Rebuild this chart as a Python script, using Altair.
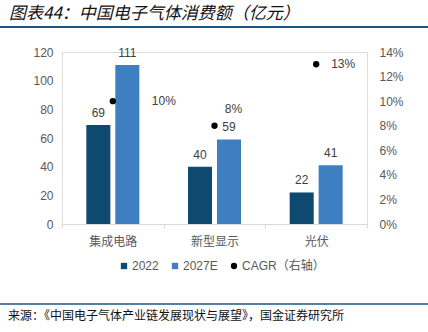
import altair as alt
import pandas as pd

categories = ["集成电路", "新型显示", "光伏"]
v2022 = [69, 40, 22]
v2027 = [111, 59, 41]
cagr = [0.10, 0.08, 0.13]
series_names = ["2022", "2027E", "CAGR（右轴）"]
title_text = "图表44：中国电子气体消费额（亿元）"
source_text = "来源：《中国电子气体产业链发展现状与展望》，国金证券研究所"

bars_df = pd.DataFrame({
    "category": categories * 2,
    "series": ["2022"] * 3 + ["2027E"] * 3,
    "value": v2022 + v2027,
})
cagr_df = pd.DataFrame({"category": categories, "cagr": cagr, "series": ["CAGR（右轴）"] * 3})

FONT = "Liberation Sans, Noto Sans CJK SC, sans-serif"
CJK = "Noto Sans CJK SC, sans-serif"
NAVY = "#0E4A6F"
BLUE = "#3E7FC1"
LINE = "#1F5580"

legend = alt.Legend(orient="none", legendX=56, legendY=208, direction="horizontal",
                    labelFont=FONT, labelFontSize=12, labelColor="#595959",
                    labelOffset=2, columnPadding=10, symbolStrokeWidth=0)

x_enc = alt.X("category:N", sort=categories, title=None,
              scale=alt.Scale(paddingInner=0, paddingOuter=0),
              axis=alt.Axis(tickBand="extent", ticks=True, tickSize=4, tickColor="#D9D9D9",
                            domainColor="#D9D9D9", labelAngle=0, labelFont=CJK, labelFontSize=12,
                            labelColor="#595959", labelPadding=8))
xoff = alt.XOffset("series:N", sort=["2022", "2027E"],
                   scale=alt.Scale(paddingInner=0.17, paddingOuter=0.84))
left_axis = alt.Axis(orient="left", values=[0, 20, 40, 60, 80, 100, 120], grid=False, domain=False,
                     ticks=False, labelFont=FONT, labelFontSize=12, labelColor="#595959",
                     labelPadding=9)
right_axis = alt.Axis(orient="right", values=[0, 0.02, 0.04, 0.06, 0.08, 0.10, 0.12, 0.14],
                      format=".0%", grid=False, domain=False, ticks=False, labelFont=FONT,
                      labelFontSize=12, labelColor="#595959", labelPadding=12)
y_left = alt.Y("value:Q", title=None, scale=alt.Scale(domain=[0, 120]), axis=left_axis)
y_right = alt.Y("cagr:Q", title=None, scale=alt.Scale(domain=[0, 0.14]), axis=right_axis)

color = alt.Color("series:N", title=None,
                  scale=alt.Scale(domain=series_names, range=[NAVY, BLUE, "#000000"]),
                  legend=legend)
shape = alt.Shape("series:N", title=None,
                  scale=alt.Scale(domain=series_names, range=["square", "square", "circle"]),
                  legend=legend)
size = alt.Size("series:N", title=None,
                scale=alt.Scale(domain=series_names, range=[40, 40, 20]),
                legend=legend)

bars = alt.Chart(bars_df).mark_bar().encode(x=x_enc, xOffset=xoff, y=y_left, color=color)
bar_labels = alt.Chart(bars_df).mark_text(baseline="bottom", dy=-5, font=FONT, fontSize=12,
                                          color="#404040").encode(
    x=alt.X("category:N", sort=categories),
    xOffset=xoff,
    y=y_left,
    text="value:Q",
)

points = alt.Chart(cagr_df).mark_point(filled=True, opacity=1, strokeWidth=0).encode(
    x=alt.X("category:N", sort=categories), y=y_right, color=color, shape=shape, size=size)

def cagr_label(cat, dx, dy):
    return alt.Chart(cagr_df).transform_filter(alt.datum.category == cat).mark_text(
        dx=dx, dy=dy, font=FONT, fontSize=12, color="#404040").encode(
        x=alt.X("category:N", sort=categories),
        y=y_right,
        text=alt.Text("cagr:Q", format=".0%"))

lab1 = cagr_label("集成电路", 51, 0)
lab2 = cagr_label("新型显示", 19, -17)
lab3 = cagr_label("光伏", 27, 0)

title = alt.Chart(pd.DataFrame({"t": [title_text]})).mark_text(
    align="left", baseline="middle", font=CJK, fontSize=17, fontStyle="italic",
    color="#111111").encode(x=alt.value(-53), y=alt.value(-38), text="t:N")
source = alt.Chart(pd.DataFrame({"t": [source_text]})).mark_text(
    align="left", baseline="middle", font=CJK, fontSize=12, color="#111111").encode(
    x=alt.value(-54), y=alt.value(264), text="t:N")
top_line = alt.Chart(pd.DataFrame({"a": [0]})).mark_rule(color=LINE, strokeWidth=2).encode(
    x=alt.value(-62), x2=alt.value(366), y=alt.value(-25))
bottom_line = alt.Chart(pd.DataFrame({"a": [0]})).mark_rule(color=LINE, strokeWidth=1.5).encode(
    x=alt.value(-62), x2=alt.value(366), y=alt.value(252))

chart = alt.layer(
    alt.layer(bars, bar_labels),
    alt.layer(points, lab1, lab2, lab3),
    title, source, top_line, bottom_line,
).resolve_scale(y="independent").properties(
    width=305, height=172,
    autosize=alt.AutoSizeParams(type="none"),
    padding={"left": 62, "top": 52, "right": 61, "bottom": 108},
).configure_view(stroke=None).configure(background="white")

chart.save("out.html", embed_options={"renderer": "svg", "actions": False})
